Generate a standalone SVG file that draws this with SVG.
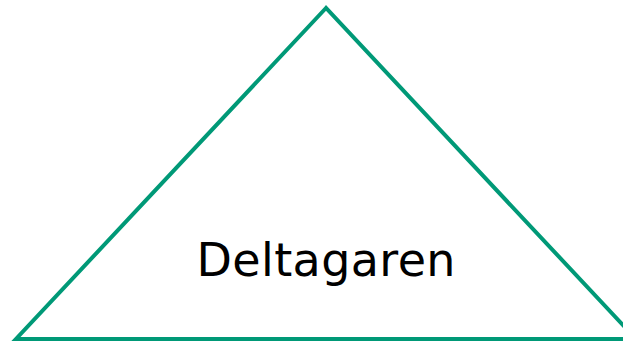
<svg xmlns="http://www.w3.org/2000/svg" width="623" height="342" viewBox="0 0 623 342">
<style>
.shape{fill:#ffffff;stroke:#009977;stroke-width:4;stroke-linejoin:miter}
.label{font-family:"DejaVu Sans",sans-serif;font-size:46px;fill:#000000}
</style>
<rect width="623" height="342" fill="#ffffff"/>
<g id="deltagaren">
<polygon class="shape" points="326,8 16,339 636,339"/>
<text class="label" x="326" y="276" text-anchor="middle" textLength="259" lengthAdjust="spacing">Deltagaren</text>
</g>
<g id="connectors"/>
</svg>
